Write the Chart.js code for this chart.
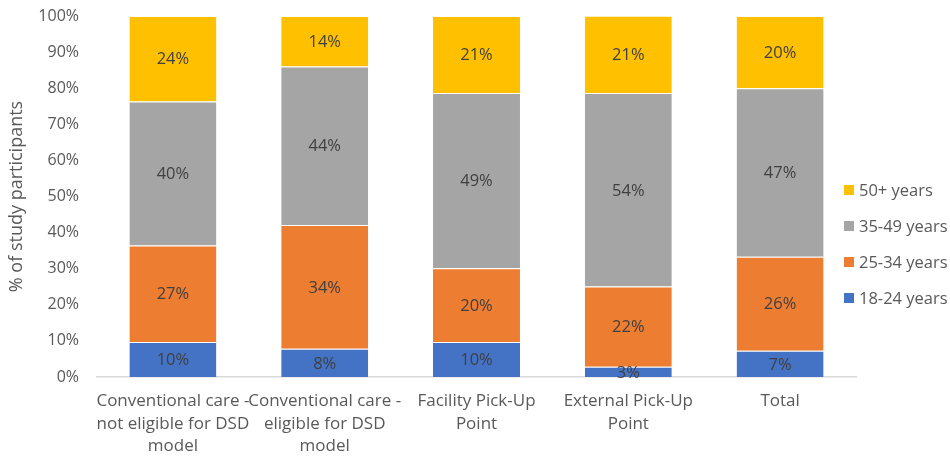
<!DOCTYPE html>
<html>
<head>
<meta charset="utf-8">
<script src="https://cdn.jsdelivr.net/npm/chart.js@4/dist/chart.umd.min.js"></script>
<style>
  html, body { margin: 0; padding: 0; background: #fff; }
  #wrap { width: 950px; height: 457px; }
</style>
</head>
<body>
<div id="wrap"><canvas id="chart" width="950" height="457"></canvas></div>
<script>
// ── Data ─────────────────────────────────────────────────────────
const categories = [
  ['Conventional care -', 'not eligible for DSD', 'model'],
  ['Conventional care -', 'eligible for DSD', 'model'],
  ['Facility Pick-Up', 'Point'],
  ['External Pick-Up', 'Point'],
  'Total',
];
const age18to24 = [9.7, 7.8, 9.7, 2.85, 7.3];
const age25to34 = [26.7, 34.3, 20.4, 22.2, 26.0];
const age35to49 = [39.9, 43.9, 48.6, 53.6, 46.7];
const age50plus = [23.7, 14.0, 21.3, 21.4, 20.0];
const yTicks = [0, 10, 20, 30, 40, 50, 60, 70, 80, 90, 100];

const FONT = "'Open Sans', sans-serif";
const COLORS = {
  a18: '#4472C4',
  a25: '#ED7D31',
  a35: '#A5A5A5',
  a50: '#FFC000',
};

// ── Plugins ──────────────────────────────────────────────────────
const valueLabels = {
  id: 'valueLabels',
  afterDatasetsDraw(chart) {
    const ctx = chart.ctx;
    ctx.save();
    ctx.font = `16.5px ${FONT}`;
    ctx.fillStyle = '#404040';
    ctx.textAlign = 'center';
    ctx.textBaseline = 'middle';
    chart.data.datasets.forEach((ds, i) => {
      const meta = chart.getDatasetMeta(i);
      meta.data.forEach((bar, j) => {
        const v = ds.data[j];
        ctx.fillText(Math.round(v) + '%', bar.x, (bar.y + bar.base) / 2 + 1);
      });
    });
    ctx.restore();
  }
};

// legend drawn by hand so it sits where the original one does
const sideLegend = {
  id: 'sideLegend',
  afterDraw(chart) {
    const ctx = chart.ctx;
    const x = chart.chartArea.right - 12;
    let y = 190;
    ctx.save();
    ctx.font = `16.5px ${FONT}`;
    ctx.textBaseline = 'middle';
    ctx.textAlign = 'left';
    chart.data.datasets.slice().reverse().forEach(ds => {
      ctx.fillStyle = ds.backgroundColor;
      ctx.fillRect(x, y - 5, 10, 10);
      ctx.fillStyle = '#595959';
      ctx.fillText(ds.label, x + 15, y + 1);
      y += 36;
    });
    ctx.restore();
  }
};

function dataset(label, data, color) {
  return {
    label,
    data,
    backgroundColor: color,
    borderColor: '#ffffff',
    borderWidth: { top: 1 },
    borderSkipped: false,
    categoryPercentage: 1,
    barPercentage: 0.573,
  };
}

// ── Chart ────────────────────────────────────────────────────────
new Chart(document.getElementById('chart'), {
  type: 'bar',
  data: {
    labels: categories,
    datasets: [
      dataset('18-24 years', age18to24, COLORS.a18),
      dataset('25-34 years', age25to34, COLORS.a25),
      dataset('35-49 years', age35to49, COLORS.a35),
      dataset('50+ years', age50plus, COLORS.a50),
    ]
  },
  options: {
    responsive: false,
    devicePixelRatio: 1,
    animation: false,
    layout: { padding: { top: 16, right: 94, left: 0, bottom: 0 } },
    plugins: {
      legend: { display: false },
      tooltip: { enabled: false },
    },
    scales: {
      x: {
        stacked: true,
        grid: { display: false, drawTicks: false },
        border: { display: true, color: '#D9D9D9', width: 1.5 },
        ticks: {
          color: '#595959',
          font: { family: FONT, size: 17, lineHeight: 1.32 },
          padding: 13,
          maxRotation: 0,
          autoSkip: false,
        },
        afterFit: (s) => { s.height = 80; },
      },
      y: {
        stacked: true,
        min: 0,
        max: 100,
        afterBuildTicks: (s) => { s.ticks = yTicks.map(v => ({ value: v })); },
        grid: { display: false, drawTicks: false },
        border: { display: false },
        ticks: {
          color: '#595959',
          font: { family: FONT, size: 16 },
          padding: 18,
          callback: (v) => v + '%',
        },
        title: {
          display: true,
          text: '% of study participants',
          color: '#595959',
          font: { family: FONT, size: 18 },
          padding: { top: 6, bottom: 0 },
        },
        afterFit: (s) => { s.width = 97; s.paddingTop = 0; s.paddingBottom = 0; },
      },
    },
  },
  plugins: [valueLabels, sideLegend],
});
</script>
</body>
</html>
